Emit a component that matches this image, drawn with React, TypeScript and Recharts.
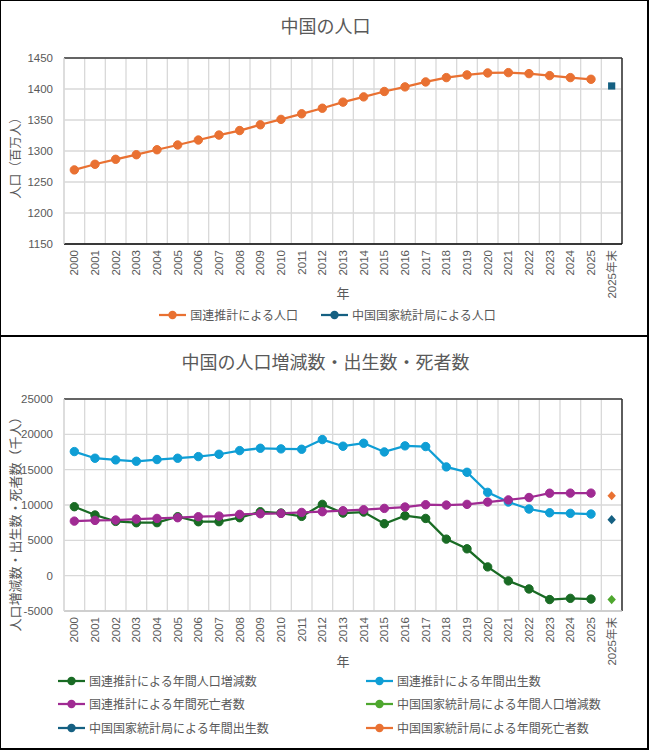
import React from 'react';
import { LineChart, Line, XAxis, YAxis, CartesianGrid, ReferenceLine, Legend } from 'recharts';

// ---------- data ----------
const years = ['2000', '2001', '2002', '2003', '2004', '2005', '2006', '2007', '2008', '2009', '2010', '2011', '2012', '2013', '2014', '2015', '2016', '2017', '2018', '2019', '2020', '2021', '2022', '2023', '2024', '2025'];
const NBS_LABEL = '2025年末';
const categories = [...years, NBS_LABEL];

// 国連推計による人口 (百万人)
const unPopulation = [1269.5, 1278.6, 1286.6, 1294.0, 1302.0, 1309.7, 1317.7, 1325.7, 1333.0, 1342.3, 1351.0, 1360.0, 1369.0, 1378.8, 1387.3, 1396.0, 1403.4, 1411.4, 1418.4, 1422.7, 1425.9, 1426.4, 1424.8, 1421.6, 1418.4, 1415.7];
// 中国国家統計局による人口 (百万人)
const nbsPopulation = 1404.9;
const popTicks = [1150, 1200, 1250, 1300, 1350, 1400, 1450];

// 千人
const unChange = [9760, 8580, 7680, 7490, 7500, 8340, 7630, 7640, 8200, 9050, 8860, 8390, 10090, 8860, 9000, 7350, 8480, 8100, 5170, 3800, 1240, -740, -1880, -3380, -3210, -3310];
const unBirths = [17560, 16620, 16380, 16190, 16430, 16620, 16850, 17180, 17700, 18030, 17940, 17890, 19260, 18320, 18740, 17510, 18370, 18270, 15390, 14630, 11790, 10420, 9430, 8900, 8820, 8720];
const unDeaths = [7720, 7820, 7870, 8010, 8100, 8200, 8340, 8430, 8670, 8760, 8810, 8950, 9050, 9190, 9330, 9520, 9710, 10040, 9990, 10090, 10420, 10720, 11060, 11670, 11680, 11680];
const nbsChange = -3390;
const nbsBirths = 7920;
const nbsDeaths = 11310;
const vitalTicks = [-5000, 0, 5000, 10000, 15000, 20000, 25000];

// series names
const popNames = ['国連推計による人口', '中国国家統計局による人口'];
const vitalNames = [
  '国連推計による年間人口増減数',
  '国連推計による年間出生数',
  '国連推計による年間死亡者数',
  '中国国家統計局による年間人口増減数',
  '中国国家統計局による年間出生数',
  '中国国家統計局による年間死亡者数',
];

const popData = categories.map((cat, i) => ({
  cat,
  un: i < unPopulation.length ? unPopulation[i] : null,
  nbs: cat === NBS_LABEL ? nbsPopulation : null,
}));

const vitalData = categories.map((cat, i) => ({
  cat,
  unChange: i < unChange.length ? unChange[i] : null,
  unBirths: i < unBirths.length ? unBirths[i] : null,
  unDeaths: i < unDeaths.length ? unDeaths[i] : null,
  nbsChange: cat === NBS_LABEL ? nbsChange : null,
  nbsBirths: cat === NBS_LABEL ? nbsBirths : null,
  nbsDeaths: cat === NBS_LABEL ? nbsDeaths : null,
}));

// ---------- style ----------
const TEXT = '#595959';
const FONT = '"Noto Sans CJK JP", "Noto Sans", sans-serif';
const NUM_FONT = '"Liberation Sans", "Noto Sans CJK JP", sans-serif';
const GRID = '#d9d9d9';
const BORDER = '#3a3a3a';
const C_ORANGE = '#E97132';
const C_NAVY = '#156082';
const C_GREEN = '#196B24';
const C_SKY = '#0F9ED5';
const C_PURPLE = '#A02B93';
const C_LIME = '#4EA72E';

const popColors = [C_ORANGE, C_NAVY];
const vitalColors = [C_GREEN, C_SKY, C_PURPLE, C_LIME, C_NAVY, C_ORANGE];

const bandLines = (props: any) => {
  const o = props && props.offset ? props.offset : { left: 64, width: 558 };
  const n = categories.length;
  return Array.from({ length: n + 1 }, (_, i) => o.left + (o.width * i) / n);
};

const XTick = (props: any) => {
  const { x, y, payload } = props;
  return (
    <text
      transform={`translate(${x},${y}) rotate(-90)`}
      textAnchor="end"
      dominantBaseline="central"
      fontSize={11.5}
      fill={TEXT}
      fontFamily={NUM_FONT}
    >
      {payload.value}
    </text>
  );
};

const yTickStyle = { fill: TEXT, fontSize: 11.5, fontFamily: NUM_FONT };

const makeYLabel = (text: string, fontSize: number, dy: number) => (p: any) => {
  const vb = (p && p.viewBox) || { x: 0, y: 58, width: 64, height: 186 };
  const cx = vb.x + 14;
  const cy = vb.y + vb.height / 2 + dy;
  return (
    <text
      transform={`translate(${cx},${cy}) rotate(-90)`}
      textAnchor="middle"
      dominantBaseline="central"
      fontSize={fontSize}
      fill={TEXT}
      fontFamily={FONT}
    >
      {text}
    </text>
  );
};

const makeXLabel = (text: string, dy: number) => (p: any) => {
  const vb = (p && p.viewBox) || { x: 64, y: 244, width: 558, height: 92 };
  return (
    <text
      x={vb.x + vb.width / 2}
      y={vb.y + dy}
      textAnchor="middle"
      dominantBaseline="central"
      fontSize={13}
      fill={TEXT}
      fontFamily={FONT}
    >
      {text}
    </text>
  );
};

const circleDot = (color: string) => (props: any) => {
  const { cx, cy, index } = props;
  if (cx == null || cy == null || props.value == null) return <g key={`d${index}`} />;
  return <circle key={`d${index}`} cx={cx} cy={cy} r={4.2} fill={color} stroke={color} strokeWidth={1} />;
};

const squareDot = (color: string) => (props: any) => {
  const { cx, cy, index } = props;
  if (cx == null || cy == null || props.value == null) return <g key={`s${index}`} />;
  return <rect key={`s${index}`} x={cx - 3.6} y={cy - 3.6} width={7.2} height={7.2} fill={color} />;
};

const diamondDot = (color: string) => (props: any) => {
  const { cx, cy, index } = props;
  if (cx == null || cy == null || props.value == null) return <g key={`m${index}`} />;
  return <path key={`m${index}`} d={`M${cx},${cy - 4.6}L${cx + 4.2},${cy}L${cx},${cy + 4.6}L${cx - 4.2},${cy}Z`} fill={color} />;
};

const LegendMarker = ({ color }: { color: string }) => (
  <svg width={27} height={10} style={{ display: 'block', flex: '0 0 auto' }}>
    <line x1={0} y1={5} x2={27} y2={5} stroke={color} strokeWidth={2.25} />
    <circle cx={13.5} cy={5} r={4.2} fill={color} />
  </svg>
);

const LegendItem = ({ color, text }: { color: string; text: string }) => (
  <div style={{ display: 'flex', alignItems: 'center', height: 20, whiteSpace: 'nowrap' }}>
    <LegendMarker color={color} />
    <span style={{ marginLeft: 4, fontSize: 12, color: TEXT, fontFamily: FONT, lineHeight: '20px' }}>{text}</span>
  </div>
);

const TopLegend = () => (
  <div style={{ display: 'flex', justifyContent: 'center', gap: 23, paddingLeft: 6 }}>
    {popNames.map((name, i) => (
      <LegendItem key={name} color={popColors[i]} text={name} />
    ))}
  </div>
);

const BottomLegend = () => (
  <div style={{ display: 'grid', gridTemplateColumns: '308px 280px', gridAutoRows: '23.5px', paddingLeft: 58, alignItems: 'center' }}>
    {vitalNames.map((name, i) => (
      <LegendItem key={name} color={vitalColors[i]} text={name} />
    ))}
  </div>
);

const titleStyle: React.CSSProperties = {
  position: 'absolute',
  left: 0,
  width: 651,
  textAlign: 'center',
  fontSize: 18,
  color: TEXT,
  fontFamily: FONT,
  lineHeight: '24px',
  zIndex: 2,
};

export default function App() {
  return (
    <div style={{ position: 'absolute', left: 0, top: 0, width: 649, height: 750, background: '#fff', overflow: 'hidden' }}>
      {/* ---------- top chart ---------- */}
      <div style={{ position: 'absolute', left: 0, top: 0, width: 649, height: 336 }}>
        <div style={{ ...titleStyle, top: 13 }}>中国の人口</div>
        <LineChart width={649} height={336} data={popData} margin={{ top: 58, right: 27, bottom: 0, left: 0 }}>
          <CartesianGrid stroke={GRID} strokeWidth={1.3} verticalCoordinatesGenerator={bandLines} />
          <XAxis
            dataKey="cat"
            scale="band"
            interval={0}
            tick={XTick}
            tickLine={false}
            tickSize={6}
            tickMargin={0}
            height={92}
            axisLine={{ stroke: '#000', strokeWidth: 1.5 }}
            label={makeXLabel('年', 48)}
          />
          <YAxis
            domain={[1150, 1450]}
            ticks={popTicks}
            width={64}
            tick={yTickStyle}
            tickLine={false}
            tickMargin={5}
            axisLine={{ stroke: GRID, strokeWidth: 1.3 }}
            label={makeYLabel('人口（百万人）', 12.5, 4)}
            allowDataOverflow
          />
          <ReferenceLine y={1450} stroke={BORDER} strokeWidth={1.6} />
          <ReferenceLine x={NBS_LABEL} position="end" stroke={BORDER} strokeWidth={1.6} />
          <Line
            name={popNames[0]}
            dataKey="un"
            stroke={C_ORANGE}
            strokeWidth={2.25}
            dot={circleDot(C_ORANGE)}
            activeDot={false}
            isAnimationActive={false}
          />
          <Line
            name={popNames[1]}
            dataKey="nbs"
            stroke={C_NAVY}
            strokeWidth={2.25}
            dot={squareDot(C_NAVY)}
            activeDot={false}
            isAnimationActive={false}
          />
          <Legend
            layout="horizontal"
            verticalAlign="middle"
            align="center"
            content={TopLegend}
            wrapperStyle={{ top: 305, left: 0, width: 649, height: 20 }}
          />
        </LineChart>
      </div>

      {/* ---------- bottom chart ---------- */}
      <div style={{ position: 'absolute', left: 0, top: 336, width: 649, height: 414 }}>
        <div style={{ ...titleStyle, top: 13 }}>中国の人口増減数・出生数・死者数</div>
        <LineChart width={649} height={414} data={vitalData} margin={{ top: 63, right: 27, bottom: 0, left: 0 }}>
          <CartesianGrid stroke={GRID} strokeWidth={1.3} verticalCoordinatesGenerator={bandLines} />
          <XAxis
            dataKey="cat"
            scale="band"
            interval={0}
            tick={XTick}
            tickLine={false}
            tickSize={6}
            tickMargin={0}
            height={139}
            axisLine={{ stroke: '#c8c8c8', strokeWidth: 1.5 }}
            label={makeXLabel('年', 49)}
          />
          <YAxis
            domain={[-5000, 25000]}
            ticks={vitalTicks}
            width={64}
            tick={yTickStyle}
            tickLine={false}
            tickMargin={5}
            axisLine={{ stroke: GRID, strokeWidth: 1.3 }}
            label={makeYLabel('人口増減数・出生数・死者数（千人）', 13, 16)}
            allowDataOverflow
          />
          <ReferenceLine y={25000} stroke={BORDER} strokeWidth={1.6} />
          <ReferenceLine x={NBS_LABEL} position="end" stroke={BORDER} strokeWidth={1.6} />
          <Line name={vitalNames[0]} dataKey="unChange" stroke={C_GREEN} strokeWidth={2.25} dot={circleDot(C_GREEN)} activeDot={false} isAnimationActive={false} />
          <Line name={vitalNames[1]} dataKey="unBirths" stroke={C_SKY} strokeWidth={2.25} dot={circleDot(C_SKY)} activeDot={false} isAnimationActive={false} />
          <Line name={vitalNames[2]} dataKey="unDeaths" stroke={C_PURPLE} strokeWidth={2.25} dot={circleDot(C_PURPLE)} activeDot={false} isAnimationActive={false} />
          <Line name={vitalNames[3]} dataKey="nbsChange" stroke={C_LIME} strokeWidth={2.25} dot={diamondDot(C_LIME)} activeDot={false} isAnimationActive={false} />
          <Line name={vitalNames[4]} dataKey="nbsBirths" stroke={C_NAVY} strokeWidth={2.25} dot={diamondDot(C_NAVY)} activeDot={false} isAnimationActive={false} />
          <Line name={vitalNames[5]} dataKey="nbsDeaths" stroke={C_ORANGE} strokeWidth={2.25} dot={diamondDot(C_ORANGE)} activeDot={false} isAnimationActive={false} />
          <Legend
            layout="horizontal"
            verticalAlign="middle"
            align="center"
            content={BottomLegend}
            wrapperStyle={{ top: 333, left: 0, width: 649, height: 72 }}
          />
        </LineChart>
      </div>

      {/* ---------- frames ---------- */}
      <div style={{ position: 'absolute', left: 0, top: 0, width: 649, height: 337, boxSizing: 'border-box', border: '1px solid #000', borderRight: '2px solid #000', borderBottom: '2px solid #000', pointerEvents: 'none' }} />
      <div style={{ position: 'absolute', left: 0, top: 337, width: 649, height: 413, boxSizing: 'border-box', borderLeft: '1px solid #000', borderRight: '2px solid #000', borderBottom: '2px solid #000', pointerEvents: 'none' }} />
    </div>
  );
}
